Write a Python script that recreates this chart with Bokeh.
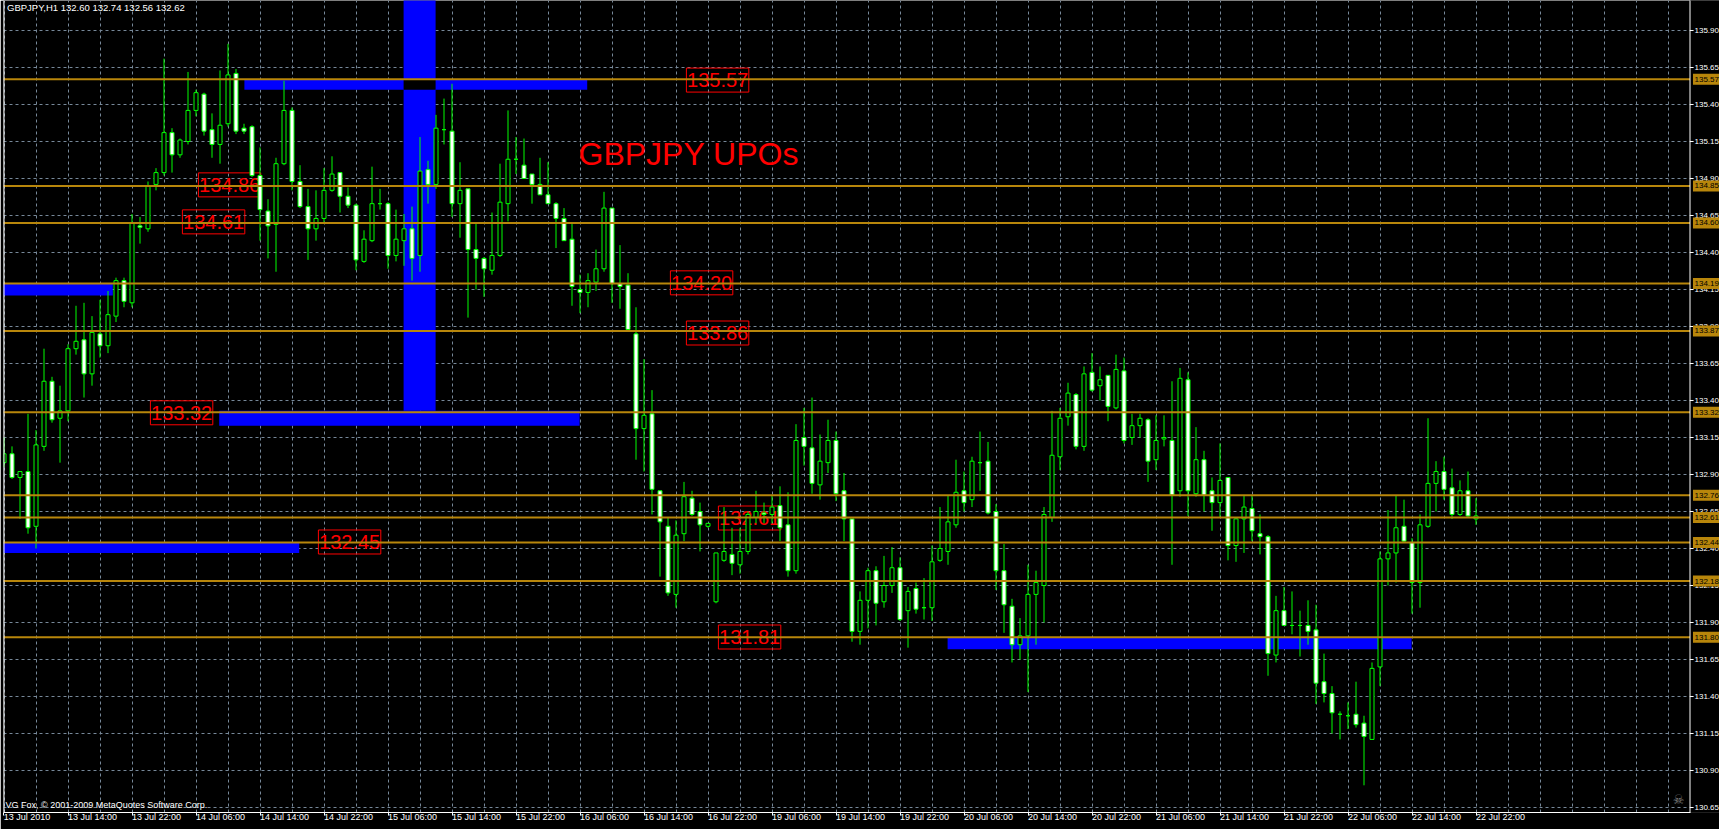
from bokeh.plotting import figure
from bokeh.models import Range1d, FixedTicker, Label, Span, ColumnDataSource
from bokeh.core.properties import value
from bokeh.embed import file_html
from bokeh.resources import INLINE

# ---------------- data (GBPJPY H1, 13 Jul 2010 06:00 .. 22 Jul 2010 22:00) ----------------
opens = [132.98, 133.04, 132.88, 132.92, 132.55, 133.09, 133.53, 133.28, 133.33, 133.75,
         133.81, 133.58, 133.85, 133.77, 133.97, 134.21, 134.06, 134.58, 134.56, 134.86,
         134.94, 135.21, 135.06, 135.15, 135.36, 135.47, 135.23, 135.13, 135.27, 135.61,
         135.24, 135.25, 134.92, 134.68, 134.59, 135.00, 135.36, 134.88, 134.71, 134.56,
         134.63, 134.82, 134.94, 134.78, 134.72, 134.34, 134.48, 134.73, 134.73, 134.38,
         134.48, 134.56, 134.38, 134.96, 134.86, 135.23, 135.22, 134.73, 134.83, 134.42,
         134.36, 134.28, 134.38, 134.73, 135.03, 134.99, 134.93, 134.86, 134.79, 134.73,
         134.63, 134.49, 134.15, 134.13, 134.20, 134.29, 134.70, 134.19, 134.18, 133.85,
         133.21, 133.31, 132.79, 132.55, 132.09, 132.50, 132.74, 132.65, 132.55, 132.04,
         132.32, 132.36, 132.29, 132.38, 132.61, 132.64, 132.63, 132.69, 132.56, 132.25,
         133.15, 133.08, 132.83, 132.98, 133.13, 132.79, 132.60, 131.84, 132.05, 132.25,
         132.04, 132.15, 132.27, 131.98, 132.13, 132.00, 132.00, 132.32, 132.38, 132.56,
         132.79, 132.73, 132.98, 132.99, 132.65, 132.25, 132.01, 131.75, 131.81, 132.09,
         132.15, 132.61, 133.02, 133.29, 133.44, 133.09, 133.59, 133.50, 133.57, 133.35,
         133.60, 133.15, 133.23, 133.27, 133.00, 133.14, 133.13, 132.79, 133.54, 132.77,
         133.00, 132.79, 132.71, 132.88, 132.42, 132.60, 132.67, 132.50, 132.48, 131.68,
         131.98, 131.88, 131.88, 131.88, 131.85, 131.50, 131.42, 131.28, 131.27, 131.28,
         131.22, 131.11, 131.60, 132.33, 132.37, 132.55, 132.44, 132.17, 132.55, 132.84,
         132.92, 132.81, 132.63, 132.79, 132.60]
highs = [133.15, 133.09, 132.92, 133.31, 133.20, 133.75, 133.56, 133.50, 133.78, 134.04,
         134.06, 133.97, 134.08, 134.14, 134.23, 134.23, 134.66, 134.64, 134.88, 134.97,
         135.71, 135.24, 135.17, 135.62, 135.50, 135.48, 135.34, 135.63, 135.81, 135.64,
         135.27, 135.26, 135.11, 134.76, 135.04, 135.56, 135.38, 134.99, 134.83, 134.82,
         134.97, 135.05, 134.94, 134.84, 134.73, 134.55, 134.98, 134.83, 134.74, 134.69,
         134.66, 134.71, 135.18, 135.02, 135.33, 135.44, 135.54, 135.01, 134.83, 134.60,
         134.37, 134.67, 135.00, 135.36, 135.18, 135.17, 134.93, 135.04, 135.01, 134.74,
         134.70, 134.60, 134.25, 134.26, 134.42, 134.81, 134.70, 134.45, 134.26, 134.03,
         133.68, 133.47, 132.79, 132.61, 132.59, 132.85, 132.79, 132.71, 132.57, 132.37,
         132.68, 132.54, 132.54, 132.65, 132.79, 132.71, 132.76, 132.82, 132.78, 133.24,
         133.35, 133.42, 133.17, 133.27, 133.19, 132.91, 132.60, 132.11, 132.27, 132.28,
         132.35, 132.41, 132.34, 132.14, 132.17, 132.20, 132.42, 132.68, 132.76, 133.00,
         132.92, 133.02, 133.19, 133.12, 132.70, 132.43, 132.06, 131.93, 132.29, 132.25,
         132.68, 133.33, 133.35, 133.52, 133.45, 133.63, 133.72, 133.63, 133.57, 133.71,
         133.69, 133.31, 133.31, 133.28, 133.30, 133.30, 133.53, 133.62, 133.59, 133.22,
         133.06, 132.88, 133.11, 132.88, 132.61, 132.76, 132.76, 132.63, 132.49, 132.08,
         132.14, 132.11, 131.98, 132.05, 132.02, 131.69, 131.47, 131.30, 131.36, 131.50,
         131.27, 131.63, 132.38, 132.66, 132.76, 132.73, 132.47, 132.63, 133.28, 132.99,
         133.02, 132.94, 132.86, 132.92, 132.74]
lows = [132.95, 132.87, 132.60, 132.50, 132.40, 133.06, 133.25, 132.98, 133.26, 133.71,
        133.42, 133.50, 133.69, 133.72, 133.93, 134.03, 134.03, 134.46, 134.54, 134.82,
        134.92, 134.94, 135.04, 135.13, 135.32, 135.19, 135.04, 135.00, 135.25, 135.20,
        135.20, 134.91, 134.48, 134.36, 134.27, 134.99, 134.82, 134.70, 134.35, 134.48,
        134.60, 134.81, 134.67, 134.70, 134.28, 134.33, 134.47, 134.69, 134.29, 134.34,
        134.31, 134.21, 134.27, 134.73, 134.83, 135.13, 134.64, 134.50, 133.96, 134.15,
        134.10, 134.25, 134.37, 134.61, 134.93, 134.90, 134.73, 134.79, 134.73, 134.43,
        134.48, 134.04, 133.99, 134.03, 134.14, 134.27, 134.06, 134.02, 133.87, 133.00,
        132.92, 132.63, 132.21, 132.08, 132.00, 132.45, 132.62, 132.38, 132.54, 132.03,
        132.31, 132.22, 132.23, 132.36, 132.57, 132.57, 132.57, 132.45, 132.21, 132.23,
        132.96, 132.77, 132.73, 132.91, 132.72, 132.45, 131.77, 131.75, 131.86, 131.88,
        132.00, 132.10, 131.91, 131.73, 131.96, 131.92, 131.91, 132.31, 132.29, 132.54,
        132.65, 132.68, 132.79, 132.63, 132.12, 131.83, 131.63, 131.65, 131.43, 131.75,
        131.90, 132.58, 132.93, 133.23, 133.07, 133.06, 133.46, 133.40, 133.26, 133.34,
        133.11, 133.10, 133.15, 132.85, 132.93, 133.09, 132.29, 132.75, 132.62, 132.75,
        132.65, 132.52, 132.61, 132.32, 132.31, 132.37, 132.45, 132.36, 131.54, 131.63,
        131.88, 131.82, 131.67, 131.75, 131.35, 131.36, 131.15, 131.11, 131.18, 131.19,
        130.80, 131.11, 131.47, 132.15, 132.17, 132.44, 131.96, 132.00, 132.54, 132.65,
        132.73, 132.60, 132.62, 132.61, 132.56]
closes = [133.04, 132.88, 132.92, 132.54, 133.10, 133.53, 133.27, 133.33, 133.75, 133.80,
          133.58, 133.86, 133.77, 133.98, 134.21, 134.07, 134.60, 134.57, 134.85, 134.94,
          135.21, 135.06, 135.16, 135.36, 135.48, 135.22, 135.13, 135.26, 135.60, 135.22,
          135.22, 134.92, 134.69, 134.58, 135.00, 135.36, 134.88, 134.71, 134.56, 134.63,
          134.82, 134.93, 134.78, 134.72, 134.35, 134.49, 134.73, 134.73, 134.38, 134.49,
          134.56, 134.36, 134.95, 134.86, 135.24, 135.23, 134.73, 134.82, 134.42, 134.36,
          134.29, 134.38, 134.74, 135.03, 135.03, 134.90, 134.86, 134.79, 134.73, 134.63,
          134.48, 134.17, 134.13, 134.21, 134.29, 134.70, 134.19, 134.17, 133.88, 133.21,
          133.30, 132.80, 132.58, 132.10, 132.49, 132.75, 132.63, 132.56, 132.57, 132.37,
          132.38, 132.30, 132.38, 132.63, 132.65, 132.63, 132.68, 132.54, 132.25, 133.13,
          133.09, 132.84, 132.99, 133.13, 132.77, 132.60, 131.84, 132.05, 132.25, 132.03,
          132.15, 132.27, 131.92, 132.11, 131.99, 132.00, 132.31, 132.40, 132.58, 132.78,
          132.71, 132.99, 132.98, 132.64, 132.25, 132.02, 131.75, 131.81, 132.09, 132.17,
          132.63, 133.03, 133.28, 133.45, 133.09, 133.58, 133.47, 133.54, 133.36, 133.61,
          133.13, 133.23, 133.28, 132.99, 133.13, 133.15, 132.76, 133.55, 132.79, 133.00,
          132.76, 132.71, 132.86, 132.42, 132.60, 132.68, 132.52, 132.48, 131.69, 131.98,
          131.88, 131.88, 131.88, 131.84, 131.49, 131.42, 131.29, 131.28, 131.27, 131.21,
          131.13, 131.59, 132.33, 132.37, 132.54, 132.45, 132.17, 132.56, 132.84, 132.92,
          132.80, 132.63, 132.79, 132.62, 132.62]

time_labels = ["13 Jul 2010", "13 Jul 14:00", "13 Jul 22:00", "14 Jul 06:00", "14 Jul 14:00",
               "14 Jul 22:00", "15 Jul 06:00", "15 Jul 14:00", "15 Jul 22:00", "16 Jul 06:00",
               "16 Jul 14:00", "16 Jul 22:00", "19 Jul 06:00", "19 Jul 14:00", "19 Jul 22:00",
               "20 Jul 06:00", "20 Jul 14:00", "20 Jul 22:00", "21 Jul 06:00", "21 Jul 14:00",
               "21 Jul 22:00", "22 Jul 06:00", "22 Jul 14:00", "22 Jul 22:00"]
price_ticks = [130.65, 130.90, 131.15, 131.40, 131.65, 131.90, 132.15, 132.40, 132.65, 132.90,
               133.15, 133.40, 133.65, 133.90, 134.15, 134.40, 134.65, 134.90, 135.15, 135.40,
               135.65, 135.90]

# horizontal levels (orange lines)
levels = [135.57, 134.85, 134.60, 134.19, 133.87, 133.32, 132.76, 132.61, 132.44, 132.18, 131.80]

# blue zones (bar index from / to, price top / bottom)
zone_from = [30.05, 49.95, -1.0, 26.9, -1.0, 117.95]
zone_to = [72.9, 53.95, 13.6, 71.95, 36.9, 175.95]
zone_top = [135.57, 137.00, 134.19, 133.33, 132.44, 131.80]
zone_bottom = [135.50, 133.33, 134.11, 133.23, 132.37, 131.72]

# red price notes
note_text = ["135.57", "134.86", "134.61", "134.20", "133.86", "133.32", "132.45", "132.61", "131.81"]
note_bar = [85, 24, 22, 83, 85, 18, 39, 89, 89]
note_price = [135.565, 134.857, 134.607, 134.195, 133.856, 133.317, 132.444, 132.606, 131.802]

header = "GBPJPY,H1  132.60 132.74 132.56 132.62"
banner = "GBPJPY UPOs"
footer = "VG Fox, \u00a9 2001-2009 MetaQuotes Software Corp."

# ---------------- styling / layout ----------------
FONT = "Liberation Sans"
GREEN = "#00FF00"
GOLD = "#B8860B"
GRID = "#778899"

PX_BAR = 8.0          # pixels per bar
PX_PRICE = 148.0      # pixels per 1.00 price
LEFT_BORDER = 3
FRAME_W, FRAME_H = 1716, 812

def px_x(ref_x):      # reference pixel x -> bar coordinate
    return (ref_x - 3.5) / PX_BAR

def px_y(ref_y):      # reference pixel y -> price coordinate
    return 130.65 + (810 - ref_y) / PX_PRICE

x_start = px_x(LEFT_BORDER)
x_end = x_start + FRAME_W / PX_BAR
x_ax = px_x(1689.5)             # price-scale separator
y_end = px_y(3)
y_start = y_end - FRAME_H / PX_PRICE

p = figure(frame_width=FRAME_W, frame_height=FRAME_H,
           x_range=Range1d(x_start, x_end), y_range=Range1d(y_start, y_end),
           y_axis_location=None, toolbar_location=None, output_backend="svg",
           background_fill_color="black", border_fill_color="black", outline_line_color=None,
           min_border_left=LEFT_BORDER, min_border_top=0, min_border_right=0, min_border_bottom=15)

# grid
p.xgrid.ticker = FixedTicker(ticks=list(range(0, 209, 4)))
p.ygrid.ticker = FixedTicker(ticks=price_ticks)
for g in (p.xgrid, p.ygrid):
    g.grid_line_color = GRID
    g.grid_line_dash = "3 3"
    g.grid_line_width = 1

# time axis
xa = p.xaxis[0]
tick_pos = [x_start + 0.04] + [8 * k for k in range(1, len(time_labels))]
xa.ticker = FixedTicker(ticks=tick_pos)
xa.major_label_overrides = {t: s for t, s in zip(tick_pos, time_labels)}
xa.major_label_orientation = -0.0001
xa.bounds = (x_start, x_ax)
xa.axis_line_color = "white"
xa.major_tick_line_color = "white"
xa.major_tick_out = 3
xa.major_tick_in = 0
xa.minor_tick_line_color = None
xa.major_label_text_color = "white"
xa.major_label_text_font = FONT
xa.major_label_text_font_size = "9px"
xa.major_label_standoff = 1

p.add_layout(Span(location=x_start, dimension="height", line_color="white", line_width=2))

# blue zones
p.quad(left=zone_from, right=zone_to, top=zone_top, bottom=zone_bottom,
       fill_color="#0000FF", line_color=None)
ol, orr, ot, ob = [], [], [], []
for i in range(len(zone_from)):
    for j in range(i + 1, len(zone_from)):
        l = max(zone_from[i], zone_from[j]); r = min(zone_to[i], zone_to[j])
        t = min(zone_top[i], zone_top[j]); b = max(zone_bottom[i], zone_bottom[j])
        if l < r and b < t:
            ol.append(l); orr.append(r); ot.append(t); ob.append(b)
if ol:
    p.quad(left=ol, right=orr, top=ot, bottom=ob, fill_color="black", line_color=None)

# red notes
note_cx = [b + 4.2 for b in note_bar]
p.rect(x=note_cx, y=note_price, width=7.8, height=24, height_units="screen",
       fill_alpha=0, line_color="#FF0000", line_width=1)
p.text(x=note_cx, y=note_price, text=note_text, text_color="#FF0000",
       text_font=value(FONT), text_font_size="20px", text_align="center", text_baseline="middle")
p.text(x=[px_x(578)], y=[px_y(156)], text=[banner], text_color="#FF0000",
       text_font=value(FONT), text_font_size="32px", text_align="left", text_baseline="middle")

# candles
bars = list(range(len(opens)))
src = ColumnDataSource(dict(
    x=bars, h=highs, l=lows,
    top=[max(o, c) for o, c in zip(opens, closes)],
    bottom=[min(o, c) for o, c in zip(opens, closes)],
    fill=["black" if c >= o else "white" for o, c in zip(opens, closes)]))
p.segment(x0="x", y0="h", x1="x", y1="l", source=src, line_color=GREEN, line_width=1)
p.vbar(x="x", width=0.5, top="top", bottom="bottom", source=src,
       fill_color="fill", line_color=GREEN, line_width=1)

# orange level lines
p.segment(x0=[x_start - 1] * len(levels), y0=levels, x1=[x_ax] * len(levels), y1=levels,
          line_color=GOLD, line_width=2)

# price scale strip on the right
p.quad(left=[x_ax], right=[x_end + 1], top=[y_end + 1], bottom=[y_start - 1],
       fill_color="black", line_color=None)
p.segment(x0=[x_ax], y0=[y_start - 1], x1=[x_ax], y1=[y_end + 1], line_color="white", line_width=1)
p.segment(x0=[x_ax] * len(price_ticks), y0=price_ticks, x1=[x_ax + 0.45] * len(price_ticks),
          y1=price_ticks, line_color="white", line_width=1)
p.text(x=[x_ax + 0.56] * len(price_ticks), y=price_ticks, text=[f"{t:.2f}" for t in price_ticks],
       text_color="white", text_font=value(FONT), text_font_size="8px",
       text_align="left", text_baseline="middle")
p.rect(x=[x_ax + 2.56] * len(levels), y=levels, width=4.375, height=11, height_units="screen",
       fill_color=GOLD, line_color=None)
p.text(x=[x_ax + 0.56] * len(levels), y=levels, text=[f"{lv:.2f}" for lv in levels],
       text_color="black", text_font=value(FONT), text_font_size="8px",
       text_align="left", text_baseline="middle")

# header / footer texts
p.add_layout(Label(x=px_x(6.5), y=px_y(10), text=header, text_color="white",
                   text_font=FONT, text_font_size="9.5px", text_baseline="middle"))
p.add_layout(Label(x=px_x(5), y=px_y(807), text=footer, text_color="white",
                   text_font=FONT, text_font_size="9px", text_baseline="middle"))
p.add_layout(Label(x=px_x(1678), y=px_y(802), text="\u2620", text_color="#808080",
                   text_font="DejaVu Sans", text_font_size="13px", text_align="center",
                   text_baseline="middle"))

open("out.html", "w").write(file_html(p, INLINE))
